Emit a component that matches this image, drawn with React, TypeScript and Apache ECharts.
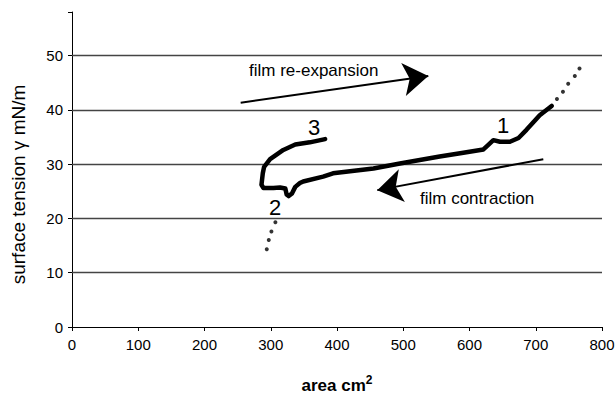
import React, { useEffect, useRef } from "react";
import * as echarts from "echarts";

// x ticks 0..800 step 100, y ticks 0..50 step 10
const xMin = 0;
const xMax = 800;
const xStep = 100;
const yMin = 0;
const yMax = 58;
const yStep = 10;
const gridLevels = [10, 20, 30, 40, 50];

// Solid isotherm: contraction from 1 down to 2, then re-expansion up to 3
const isotherm: [number, number][] = [
  [724, 40.7], [706, 39.0], [686, 36.3], [674, 34.8], [661, 34.1], [646, 34.1],
  [636, 34.4], [628, 33.5], [621, 32.7], [586, 32.0], [555, 31.4], [495, 30.1],
  [455, 29.2], [394, 28.3], [379, 27.7], [349, 26.8], [344, 26.5], [337, 25.8],
  [332, 24.6], [327, 24.1], [324, 24.4], [322, 25.5], [314, 25.7], [304, 25.6],
  [289, 25.6], [286, 26.2], [288, 28.3], [290, 29.5], [299, 30.9], [319, 32.6],
  [337, 33.6], [359, 34.0], [382, 34.6],
];

// sparse points (dotted) at high area and below point 2
const highAreaDots: [number, number][] = [
  [732, 42.0], [741, 43.3], [749, 44.8], [759, 46.2], [766, 47.6],
];
const lowAreaDots: [number, number][] = [
  [307, 19.3], [301, 17.6], [297, 16.0], [294, 14.3],
];

// annotation arrows (data coordinates: start -> end)
const expansionArrow: [number, number][] = [[254.6, 41.3], [537.8, 46.2]];
const contractionArrow: [number, number][] = [[711.4, 30.9], [460.8, 25.2]];

const FONT = "'Liberation Sans', Arial, Helvetica, sans-serif";

export default function App() {
  const ref = useRef<HTMLDivElement>(null);
  useEffect(() => {
    if (!ref.current) return;
    const chart = echarts.init(ref.current, undefined, { renderer: "svg" });
    chart.setOption({
      animation: false,
      backgroundColor: "#ffffff",
      textStyle: { fontFamily: FONT, color: "#000" },
      grid: { left: 72, right: 13, top: 12, bottom: 69, containLabel: false, outerBoundsMode: "none" },
      xAxis: {
        type: "value",
        min: xMin,
        max: xMax,
        interval: xStep,
        name: "{a|area cm}{s|2}",
        nameLocation: "middle",
        nameGap: 47,
        nameTextStyle: {
          rich: {
            a: { fontFamily: FONT, fontWeight: "bold", fontSize: 17, color: "#000", lineHeight: 22 },
            s: { fontFamily: FONT, fontWeight: "bold", fontSize: 12, color: "#000", verticalAlign: "top", lineHeight: 12 },
          },
        },
        axisLine: { show: true, lineStyle: { color: "#000", width: 1 } },
        axisTick: { show: true, inside: false, length: 4, lineStyle: { color: "#000" } },
        axisLabel: { color: "#000", fontSize: 15, fontFamily: FONT, margin: 10 },
        splitLine: { show: false },
      },
      yAxis: {
        type: "value",
        min: yMin,
        max: yMax,
        interval: yStep,
        name: "surface tension γ mN/m",
        nameLocation: "middle",
        nameGap: 44,
        nameRotate: 90,
        nameTextStyle: { fontFamily: FONT, fontSize: 19, color: "#000", padding: [0, 30, 0, 0] },
        axisLine: { show: true, lineStyle: { color: "#000", width: 1 } },
        axisTick: { show: true, inside: false, length: 4, lineStyle: { color: "#000" } },
        axisLabel: {
          color: "#000",
          fontSize: 15,
          fontFamily: FONT,
          margin: 9,
          formatter: (v: number) => (v % yStep === 0 ? String(v) : ""),
        },
        splitLine: { show: false },
      },
      series: [
        {
          type: "line",
          name: "grid",
          data: [],
          silent: true,
          markLine: {
            silent: true,
            symbol: ["none", "none"],
            label: { show: false },
            lineStyle: { color: "#444", width: 1.3, type: "solid" },
            data: gridLevels.map((v) => ({ yAxis: v })),
          },
        },
        {
          type: "line",
          name: "isotherm",
          data: isotherm,
          showSymbol: false,
          symbol: "none",
          smooth: false,
          lineStyle: { color: "#000", width: 4.5, join: "round", cap: "round" },
          z: 5,
        },
        {
          type: "scatter",
          name: "high area",
          data: highAreaDots,
          symbol: "circle",
          symbolSize: 4,
          itemStyle: { color: "#000" },
          z: 5,
        },
        {
          type: "scatter",
          name: "low area",
          data: lowAreaDots,
          symbol: "circle",
          symbolSize: 4,
          itemStyle: { color: "#000" },
          z: 5,
        },
        {
          type: "line",
          name: "arrows",
          data: [],
          silent: true,
          itemStyle: { color: "#000" },
          markLine: {
            silent: true,
            symbol: ["none", "arrow"],
            symbolSize: 25,
            label: { show: false },
            itemStyle: { color: "#000" },
            lineStyle: { color: "#000", width: 2, type: "solid" },
            data: [
              [{ coord: expansionArrow[0] }, { coord: expansionArrow[1] }],
              [{ coord: contractionArrow[0] }, { coord: contractionArrow[1] }],
            ],
          },
        },
      ],
      graphic: [
        {
          type: "text",
          x: 249,
          y: 70,
          style: { text: "film re-expansion", fontFamily: FONT, fontSize: 17, fill: "#000", align: "left", verticalAlign: "middle" },
        },
        {
          type: "text",
          x: 420,
          y: 198,
          style: { text: "film contraction", fontFamily: FONT, fontSize: 17, fill: "#000", align: "left", verticalAlign: "middle" },
        },
        {
          type: "text",
          x: 503,
          y: 125,
          style: { text: "1", fontFamily: FONT, fontSize: 22, fill: "#000", align: "center", verticalAlign: "middle" },
        },
        {
          type: "text",
          x: 275,
          y: 207,
          style: { text: "2", fontFamily: FONT, fontSize: 22, fill: "#000", align: "center", verticalAlign: "middle" },
        },
        {
          type: "text",
          x: 314,
          y: 127,
          style: { text: "3", fontFamily: FONT, fontSize: 22, fill: "#000", align: "center", verticalAlign: "middle" },
        },
      ],
    });
    return () => chart.dispose();
  }, []);
  return <div ref={ref} style={{ width: 615, height: 396, position: "absolute", left: 0, top: 0 }} />;
}
